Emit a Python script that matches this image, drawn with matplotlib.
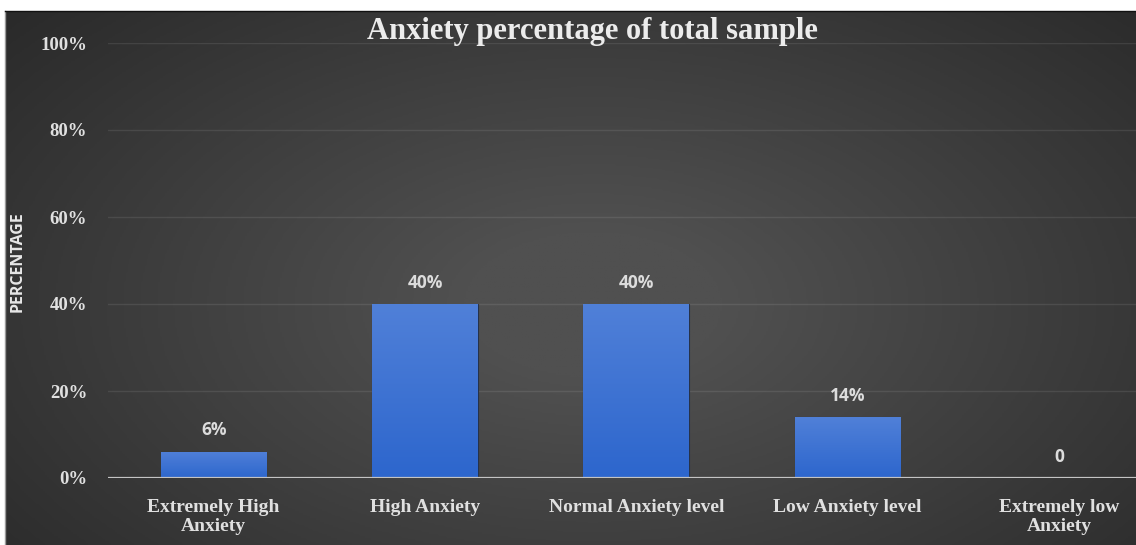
import numpy as np
import matplotlib
matplotlib.use("Agg")
import matplotlib.pyplot as plt
from matplotlib.colors import LinearSegmentedColormap

categories = ["Extremely High\nAnxiety", "High Anxiety", "Normal Anxiety level",
              "Low Anxiety level", "Extremely low\nAnxiety"]
values = [6, 40, 40, 14, 0]
value_labels = ["6%", "40%", "40%", "14%", "0"]
yticks = [0, 20, 40, 60, 80, 100]
ytick_labels = ["0%", "20%", "40%", "60%", "80%", "100%"]

W, H = 1136, 545
fig = plt.figure(figsize=(W / 100, H / 100), dpi=100)
fig.patch.set_facecolor("white")

# dark radial background of the chart area
bg = fig.add_axes([5 / W, 0, 1 - 5 / W, (H - 11) / H])
yy, xx = np.mgrid[0:1:300j, 0:1:600j]
r = np.sqrt(((xx - 0.52) / 0.75) ** 2 + ((yy - 0.55) / 0.9) ** 2)
shade = np.clip(1 - r, 0, 1)
bg_cmap = LinearSegmentedColormap.from_list("bg", ["#262626", "#505050"])
bg.imshow(shade, cmap=bg_cmap, aspect="auto", extent=[0, 1, 0, 1], vmin=0, vmax=0.85)
bg.set_axis_off()
fig.add_artist(plt.Line2D([5 / W, 5 / W], [0, (H - 11) / H], color="#9a9a9a", lw=1))
fig.add_artist(plt.Line2D([5 / W, 1], [(H - 11) / H, (H - 11) / H], color="#111111", lw=1))

ax = fig.add_axes([108 / W, (H - 478) / H, (W - 108) / W, (478 - 43) / H])
ax.set_facecolor("none")
x = np.arange(len(categories))

ax.set_yticks(yticks)
ax.set_yticklabels(ytick_labels)
ax.grid(axis="y", color="white", alpha=0.09, lw=1.0)
ax.set_axisbelow(True)
for s in ax.spines.values():
    s.set_visible(False)
ax.axhline(0, color="#c4c4c4", lw=1.6, zorder=4)

bar_cmap = LinearSegmentedColormap.from_list("bar", ["#2d66cd", "#5080d8"])
bars = ax.bar(x, values, width=0.5, color="#3a72d2", edgecolor="#26324a", lw=0.8, zorder=2)
grad = np.linspace(0, 1, 100).reshape(-1, 1)
for b in bars:
    if b.get_height() <= 0:
        continue
    im = ax.imshow(grad, cmap=bar_cmap, aspect="auto", origin="lower", zorder=3,
                   extent=[b.get_x(), b.get_x() + b.get_width(), 0, b.get_height()])
    im.set_clip_path(b)
ax.set_xlim(-0.5, (W - 214) / 211.25)
ax.set_ylim(0, 100)

for xi, v, lab in zip(x, values, value_labels):
    ax.annotate(lab, (xi, v), xytext=(0, 9), textcoords="offset points",
                ha="center", va="bottom", color="#dcdcdc", fontsize=12.5,
                fontweight="bold", family="Open Sans")

ax.set_xticks(x)
ax.set_xticklabels(categories, family="Liberation Serif", fontweight="bold",
                   fontsize=14, color="#e0e0e0", linespacing=1.2)
for t in ax.get_yticklabels():
    t.set_family("Liberation Serif")
    t.set_fontweight("bold")
    t.set_fontsize(13.5)
    t.set_color("#e0e0e0")
ax.tick_params(axis="x", length=0, pad=15)
ax.tick_params(axis="y", length=0, pad=15)

fig.text(18 / W, (H - 262) / H, "PERCENTAGE", rotation=90, ha="center", va="center",
         color="#e8e8e8", fontsize=11.5, fontweight="bold", family="Open Sans")
fig.text(592 / W, (H - 31) / H, "Anxiety percentage of total sample", ha="center",
         va="center", color="#ececec", fontsize=22, fontweight="bold",
         family="Liberation Serif")

fig.savefig("out.png", dpi=100, facecolor=fig.get_facecolor())
